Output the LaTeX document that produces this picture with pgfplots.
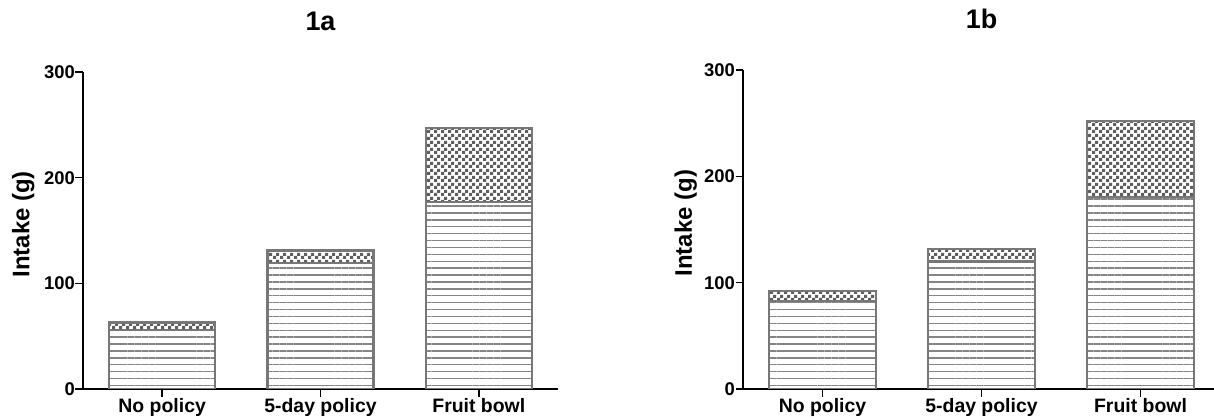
\documentclass[border=0pt]{standalone}
\usepackage{pgfplots}
\pgfplotsset{compat=1.18}
\usetikzlibrary{patterns,patterns.meta}
\usepackage{fontspec}
\setmainfont{Liberation Sans}
\definecolor{barline}{HTML}{777777}
\definecolor{hatch}{HTML}{858585}
\definecolor{check}{HTML}{5E5E5E}

\tikzdeclarepattern{
  name=mychecker,
  type=uncolored,
  bounding box={(0,0) and (7bp,7bp)},
  tile size={(7bp,7bp)},
  code={\fill (0,0) rectangle (3.5bp,3.5bp); \fill (3.5bp,3.5bp) rectangle (7bp,7bp);}
}

\pgfplotsset{
  panel/.style={
    scale only axis,
    xmin=-0.5, xmax=2.5, ymin=0, ymax=300,
    axis x line*=bottom, axis y line*=left,
    ytick={0,100,200,300},
    xtick={0,1,2}, xticklabels={No policy,5-day policy,Fruit bowl},
    tick align=outside, major tick length=7.5bp,
    tick style={black, line width=1.6bp},
    axis line style={black, line width=2.2bp},
    ybar stacked, bar width=0.67,
    /pgf/number format/assume math mode=true,
    yticklabel style={font=\fontsize{18.5}{18.5}\selectfont\bfseries, inner xsep=0.5bp},
    xticklabel style={font=\fontsize{19.5}{20}\selectfont\bfseries, inner ysep=2bp},
    ylabel={Intake (g)},
    ylabel style={font=\fontsize{24}{24}\selectfont\bfseries, anchor=center},
    title style={font=\fontsize{27}{27}\selectfont\bfseries, at={(axis description cs:0.5,1)}, anchor=center, yshift=45bp},
  },
  low/.style={draw=barline, line width=2.2bp, pattern={Lines[angle=0,distance=6.9bp,line width=1.4bp]}, pattern color=hatch},
  high/.style={draw=barline, line width=2.2bp, pattern=mychecker, pattern color=check},
}

\begin{document}
\begin{tikzpicture}
\useasboundingbox (0,0) rectangle (1214bp,420bp);
\begin{axis}[panel, width=475bp, height=317bp, at={(83bp,31bp)}, anchor=south west,
  title={1a}, ylabel style={at={(axis description cs:-0.126,0.52)}}]
\addplot[low] coordinates {(0,56) (1,119) (2,177)};
\addplot[high] coordinates {(0,7) (1,12) (2,70)};
\end{axis}
\begin{axis}[panel, width=477bp, height=319bp, at={(743bp,31bp)}, anchor=south west,
  title={1b}, ylabel style={at={(axis description cs:-0.12,0.52)}}]
\addplot[low] coordinates {(0,82.5) (1,120) (2,180.3)};
\addplot[high] coordinates {(0,10) (1,11.7) (2,71.4)};
\end{axis}
\end{tikzpicture}
\end{document}
